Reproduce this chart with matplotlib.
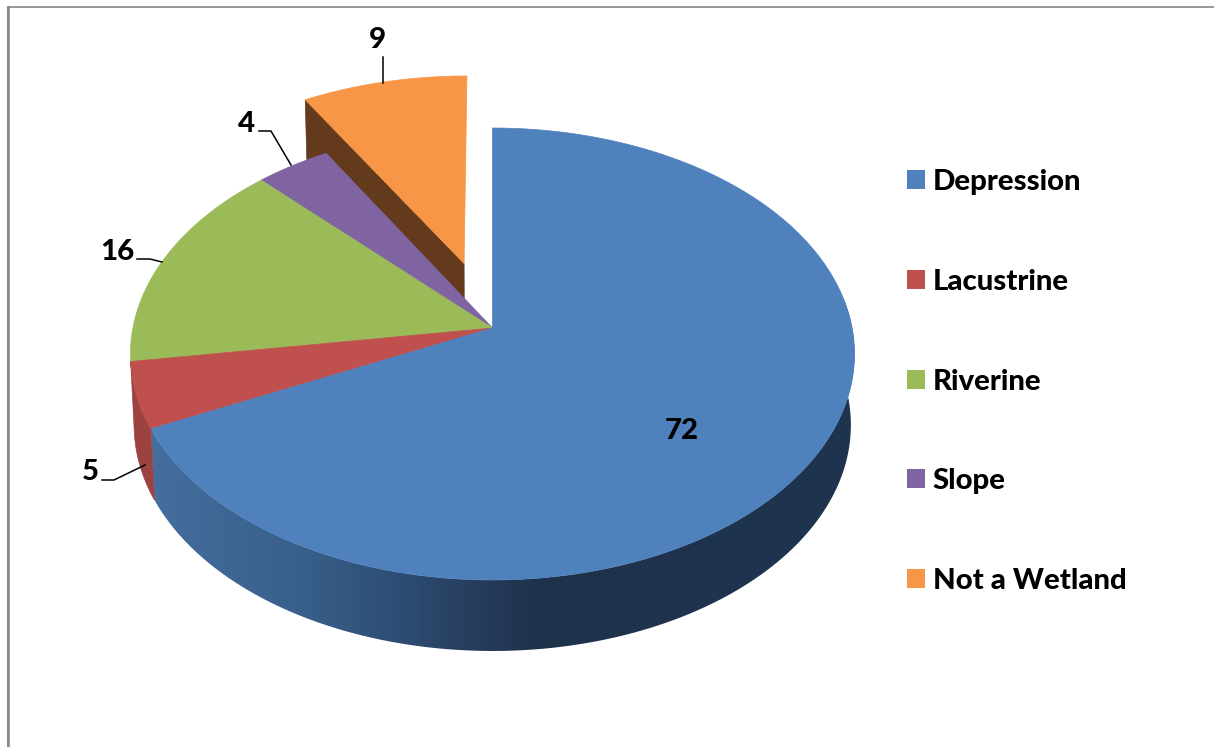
import numpy as np
import matplotlib
matplotlib.use('Agg')
import matplotlib.pyplot as plt
from matplotlib.colors import LinearSegmentedColormap
from matplotlib.patches import Patch, Polygon

categories = ['Depression', 'Lacustrine', 'Riverine', 'Slope', 'Not a Wetland']
values = [72, 5, 16, 4, 9]
colors = ['#4F81BD', '#C0504D', '#9BBB59', '#8064A2', '#F79646']

plt.rcParams['font.family'] = ['Lato', 'DejaVu Sans']
plt.rcParams['font.weight'] = 'bold'

# perspective of the tilted pie, in pixels of the picture
CX, CY = 492.5, 328
TOP_W, TOP_H = 359.6, 223
LOW_W, LOW_H, LOW_CY = 356, 223, 399
K = 0.115
EXPLODE = 0.31


def project(u, v, low=False):
    d = 1 + K * v
    if low:
        return CX + LOW_W * u / d, LOW_CY - LOW_H * v / d
    return CX + TOP_W * u / d, CY - TOP_H * v / d


def rim(a, b, low=False, off=(0, 0)):
    t = np.radians(np.linspace(a, b, 200))
    return np.column_stack(project(np.sin(t) + off[0], np.cos(t) + off[1], low))


fig = plt.figure(figsize=(12.14, 7.47), dpi=100)
ax = fig.add_axes([0, 0, 1, 1])
ax.set_xlim(0, 1214)
ax.set_ylim(747, 0)
ax.axis('off')

edges = np.concatenate([[0], np.cumsum(values)]) * 360 / sum(values)

# pulled out slice, its cut wall shows behind the slope slice
a, b = edges[4], edges[5]
m = np.radians((a + b) / 2)
off = (EXPLODE * np.sin(m), EXPLODE * np.cos(m))
wall = [project(np.sin(np.radians(a)) + off[0], np.cos(np.radians(a)) + off[1]),
        project(*off),
        project(*off, low=True),
        project(np.sin(np.radians(a)) + off[0], np.cos(np.radians(a)) + off[1], low=True)]
ax.add_patch(Polygon(wall, fc='#633A1C', ec='#633A1C', lw=0.5))
top = np.vstack([[project(*off)], rim(a, b, off=off)])
ax.add_patch(Polygon(top, fc=colors[4], ec=colors[4], lw=0.5))

# outer wall of the big slice, shaded left to right
shade = LinearSegmentedColormap.from_list('shade', [
    (0.0, '#466E9E'), (0.21, '#38608A'), (0.35, '#2E4D74'), (0.465, '#263C5B'),
    (0.55, '#1F324C'), (1.0, '#1E344F')])
side = np.vstack([rim(60, edges[1]), rim(60, edges[1], low=True)[::-1]])
clip = Polygon(side, fc='none', ec='none', transform=ax.transData)
ax.add_patch(clip)
grad = np.linspace(0, 1, 512).reshape(1, -1)
im = ax.imshow(grad, cmap=shade, extent=[150, 860, 660, 300], aspect='auto', zorder=1)
im.set_clip_path(clip)
ax.set_xlim(0, 1214)
ax.set_ylim(747, 0)

# outer wall of the red slice
side = np.vstack([rim(edges[1], edges[2]), rim(edges[1], edges[2], low=True)[::-1]])
ax.add_patch(Polygon(side, fc='#9C4341', ec='#9C4341', lw=0.5, zorder=1))

# top faces
for i in [3, 2, 1, 0]:
    face = np.vstack([[(CX, CY)], rim(edges[i], edges[i + 1])])
    ax.add_patch(Polygon(face, fc=colors[i], ec=colors[i], lw=0.5, zorder=2))

# data labels and leader lines
label_pos = [(682, 431), (90, 472), (117, 252), (247, 124), (377, 40)]
for val, (x, y) in zip(values, label_pos):
    ax.text(x, y, str(val), ha='center', va='center', fontsize=21.2, fontweight='black',
            color='black', zorder=5)
leaders = [[(102, 480), (114, 480), (145, 465)],
           [(137, 259), (150, 259), (162, 262)],
           [(259, 131), (271, 131), (291, 165)],
           [(383, 57), (383, 83)]]
for line in leaders:
    xs, ys = zip(*line)
    ax.plot(xs, ys, color='black', lw=1.1, zorder=4, solid_joinstyle='miter')

# frame of the chart area
ax.plot([7.5, 7.5, 1214], [747, 6.5, 6.5], color='#868686', lw=1.2, zorder=0)
ax.plot([7.5, 7.5], [747, 6.5], color='#868686', lw=1.8, zorder=0)

handles = [Patch(fc=c, ec=c, lw=0) for c in colors]
ax.legend(handles, categories, loc='upper left', bbox_to_anchor=(907 / 1214, 1 - 169 / 747),
          frameon=False, prop={'size': 21.2, 'weight': 'black'}, labelspacing=2.505,
          handlelength=0.62, handleheight=0.62, handletextpad=0.26, borderpad=0, borderaxespad=0)

fig.savefig('out.png', dpi=100)
